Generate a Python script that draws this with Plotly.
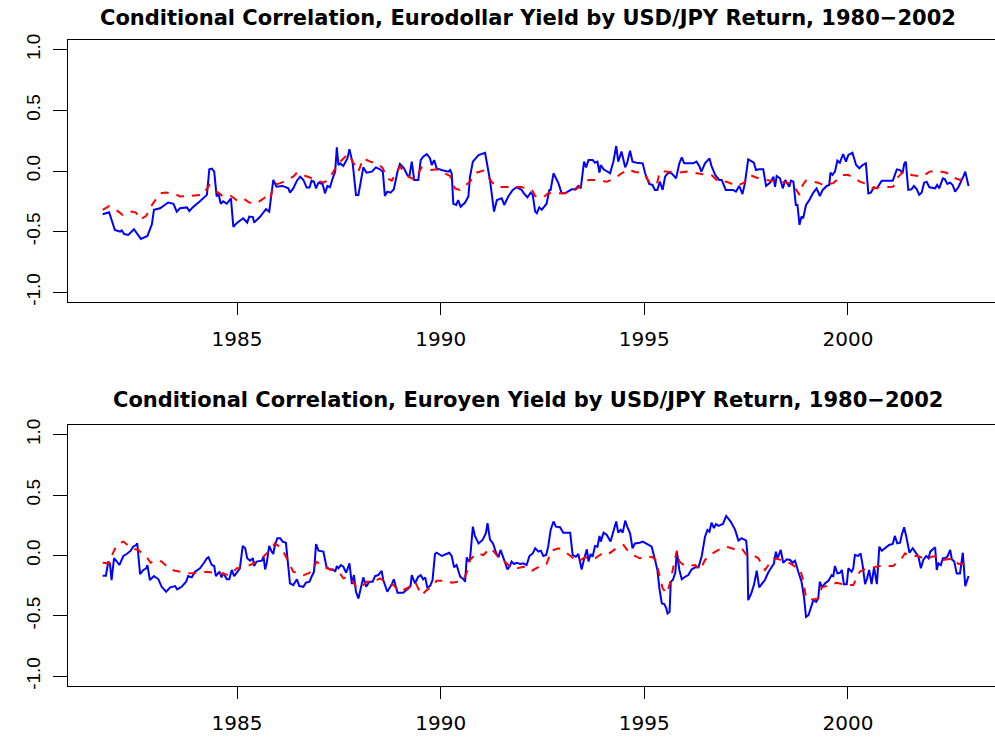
import plotly.graph_objects as go

# ---------------- data ----------------
usd_t = [1981.70, 1981.86, 1982.00, 1982.13, 1982.17, 1982.23, 1982.33, 1982.47, 1982.64, 1982.80,
         1982.91, 1982.96, 1983.11, 1983.31, 1983.44, 1983.52, 1983.60, 1983.77, 1983.83, 1983.91,
         1984.09, 1984.26, 1984.32, 1984.38, 1984.44, 1984.50, 1984.54, 1984.60, 1984.66, 1984.75,
         1984.85, 1984.91, 1984.99, 1985.15, 1985.25, 1985.30, 1985.39, 1985.42, 1985.56, 1985.71,
         1985.79, 1985.89, 1985.97, 1986.12, 1986.26, 1986.30, 1986.38, 1986.47, 1986.55, 1986.63,
         1986.71, 1986.78, 1986.83, 1986.89, 1986.94, 1987.00, 1987.10, 1987.16, 1987.22, 1987.28,
         1987.35, 1987.41, 1987.45, 1987.49, 1987.53, 1987.61, 1987.71, 1987.76, 1987.84, 1987.92,
         1987.98, 1988.06, 1988.10, 1988.18, 1988.31, 1988.41, 1988.51, 1988.58, 1988.63, 1988.69,
         1988.77, 1988.85, 1988.94, 1989.00, 1989.10, 1989.18, 1989.23, 1989.29, 1989.35, 1989.45,
         1989.51, 1989.57, 1989.66, 1989.74, 1989.78, 1989.84, 1989.90, 1990.02, 1990.19, 1990.23,
         1990.27, 1990.31, 1990.38, 1990.43, 1990.49, 1990.60, 1990.68, 1990.72, 1990.79, 1990.93,
         1991.09, 1991.21, 1991.31, 1991.38, 1991.50, 1991.56, 1991.66, 1991.77, 1991.87, 1991.99,
         1992.03, 1992.13, 1992.21, 1992.26, 1992.32, 1992.36, 1992.42, 1992.48, 1992.56, 1992.60,
         1992.67, 1992.70, 1992.77, 1992.83, 1992.89, 1992.97, 1993.05, 1993.22, 1993.30, 1993.38,
         1993.44, 1993.52, 1993.57, 1993.63, 1993.73, 1993.79, 1993.85, 1993.90, 1993.93, 1994.00,
         1994.09, 1994.16, 1994.24, 1994.31, 1994.36, 1994.44, 1994.53, 1994.58, 1994.65, 1994.71,
         1994.81, 1994.96, 1995.02, 1995.12, 1995.20, 1995.26, 1995.32, 1995.38, 1995.45, 1995.51,
         1995.59, 1995.67, 1995.78, 1995.86, 1995.92, 1995.98, 1996.20, 1996.28, 1996.35, 1996.40,
         1996.49, 1996.60, 1996.65, 1996.74, 1996.84, 1996.90, 1997.00, 1997.18, 1997.25, 1997.33,
         1997.41, 1997.47, 1997.55, 1997.63, 1997.69, 1997.74, 1997.82, 1997.92, 1997.99, 1998.09,
         1998.17, 1998.21, 1998.25, 1998.33, 1998.40, 1998.46, 1998.51, 1998.56, 1998.60, 1998.66,
         1998.72, 1998.76, 1998.81, 1998.86, 1998.90, 1998.97, 1999.05, 1999.15, 1999.23, 1999.31,
         1999.38, 1999.48, 1999.54, 1999.57, 1999.62, 1999.68, 1999.74, 1999.80, 1999.88, 1999.95,
         2000.01, 2000.11, 2000.20, 2000.28, 2000.36, 2000.44, 2000.50, 2000.56, 2000.64, 2000.71,
         2000.83, 2000.95, 2001.10, 2001.20, 2001.28, 2001.34, 2001.38, 2001.42, 2001.48, 2001.56,
         2001.62, 2001.69, 2001.75, 2001.81, 2001.87, 2001.93, 2002.00, 2002.14, 2002.19, 2002.24,
         2002.33, 2002.38, 2002.44, 2002.51, 2002.57, 2002.63, 2002.71, 2002.84, 2002.88, 2002.96]
usd_corr = [-0.356, -0.34, -0.486, -0.50, -0.49, -0.52, -0.527, -0.48, -0.56, -0.535,
            -0.44, -0.32, -0.307, -0.26, -0.27, -0.335, -0.307, -0.30, -0.33, -0.30,
            -0.25, -0.197, 0.014, 0.02, -0.005, -0.21, -0.18, -0.27, -0.25, -0.27,
            -0.225, -0.46, -0.43, -0.39, -0.425, -0.376, -0.38, -0.425, -0.38, -0.315,
            -0.335, -0.074, -0.13, -0.123, -0.143, -0.178, -0.143, -0.08, -0.047, -0.074,
            -0.137, -0.137, -0.08, -0.088, -0.143, -0.096, -0.107, -0.184, -0.123, -0.134,
            -0.06, -0.005, 0.195, 0.049, 0.063, 0.041, 0.104, 0.179, 0.063, -0.197,
            -0.197, -0.047, 0.03, -0.014, -0.005, 0.03, 0.014, -0.005, -0.206, -0.17,
            -0.178, -0.151, -0.005, 0.058, 0.022, -0.033, -0.047, 0.077, -0.074, -0.074,
            0.09, 0.118, 0.14, 0.104, 0.049, 0.09, 0.022, 0.008, -0.005, 0.008,
            -0.019, -0.27, -0.28, -0.24, -0.294, -0.26, -0.21, -0.047, 0.077, 0.132,
            0.15, -0.074, -0.335, -0.24, -0.225, -0.28, -0.21, -0.156, -0.134, -0.156,
            -0.178, -0.217, -0.178, -0.197, -0.335, -0.348, -0.30, -0.32, -0.28, -0.27,
            -0.156, -0.156, -0.019, -0.06, -0.10, -0.184, -0.184, -0.151, -0.151, -0.123,
            -0.143, 0.077, 0.03, 0.09, 0.09, 0.068, 0.077, -0.014, 0.049, 0.014,
            -0.005, -0.019, 0.077, 0.206, 0.077, 0.16, 0.03, 0.068, 0.167, 0.077,
            0.068, 0.063, -0.019, -0.107, -0.115, -0.156, -0.156, -0.088, -0.156, -0.047,
            -0.014, -0.019, -0.06, 0.063, 0.113, 0.063, 0.063, 0.077, 0.041, -0.005,
            0.063, 0.104, 0.041, -0.033, -0.074, -0.074, -0.156, -0.156, -0.17, -0.123,
            -0.19, -0.10, 0.096, 0.077, 0.068, 0.008, 0.014, 0.014, -0.123, -0.096,
            -0.047, -0.13, -0.041, -0.06, -0.143, -0.074, -0.10, -0.13, -0.08, -0.088,
            -0.28, -0.28, -0.444, -0.376, -0.39, -0.28, -0.24, -0.178, -0.143, -0.206,
            -0.156, -0.123, -0.115, -0.014, -0.033, -0.005, 0.085, 0.068, 0.14, 0.077,
            0.132, 0.15, 0.049, 0.022, 0.049, 0.063, -0.184, -0.178, -0.134, -0.143,
            -0.08, -0.08, -0.08, 0.014, 0.008, -0.019, 0.058, 0.077, -0.156, -0.151,
            -0.123, -0.151, -0.197, -0.178, -0.096, -0.088, -0.134, -0.143, -0.115, -0.143,
            -0.06, -0.068, -0.107, -0.096, -0.115, -0.17, -0.134, -0.041, -0.005, -0.123]

usd_smooth_t = [1981.70, 1981.86, 1982.09, 1982.19, 1982.41, 1982.52, 1982.62, 1982.77, 1982.91, 1983.11,
                1983.26, 1983.48, 1983.60, 1983.91, 1984.17, 1984.32, 1984.50, 1984.66, 1984.85, 1984.99,
                1985.15, 1985.30, 1985.48, 1985.69, 1985.81, 1985.89, 1986.06, 1986.20, 1986.38, 1986.47,
                1986.75, 1986.87, 1987.12, 1987.24, 1987.41, 1987.49, 1987.73, 1987.90, 1987.98, 1988.10,
                1988.27, 1988.47, 1988.58, 1988.68, 1988.80, 1988.92, 1989.00, 1989.21, 1989.37, 1989.53,
                1989.78, 1989.90, 1990.23, 1990.35, 1990.47, 1990.72, 1990.88, 1991.05, 1991.25, 1991.38,
                1991.54, 1991.78, 1991.95, 1992.15, 1992.24, 1992.32, 1992.52, 1992.64, 1992.93, 1993.05,
                1993.30, 1993.46, 1993.63, 1993.79, 1994.08, 1994.28, 1994.44, 1994.61, 1994.77, 1994.98,
                1995.14, 1995.31, 1995.38, 1995.55, 1995.80, 1996.04, 1996.20, 1996.40, 1996.65, 1996.82,
                1997.02, 1997.27, 1997.45, 1997.59, 1997.76, 1998.09, 1998.25, 1998.50, 1998.64, 1998.81,
                1998.89, 1998.97, 1999.27, 1999.39, 1999.64, 1999.87, 2000.01, 2000.17, 2000.29, 2000.46,
                2000.62, 2000.79, 2001.11, 2001.20, 2001.36, 2001.56, 2001.81, 2002.01, 2002.16, 2002.42,
                2002.54, 2002.75, 2002.88]
usd_smooth = [-0.32, -0.29, -0.335, -0.362, -0.335, -0.343, -0.40, -0.37, -0.28, -0.184,
              -0.178, -0.19, -0.21, -0.203, -0.197, -0.115, -0.17, -0.21, -0.206, -0.24,
              -0.225, -0.26, -0.267, -0.217, -0.24, -0.115, -0.10, -0.08, -0.047, -0.014,
              -0.047, -0.06, -0.096, -0.074, 0.022, 0.063, 0.14, 0.041, -0.005, 0.104,
              0.077, 0.058, 0.022, -0.06, -0.08, -0.005, 0.036, -0.047, -0.074, 0.03,
              0.008, 0.014, -0.041, -0.143, -0.156, -0.088, -0.014, 0.003, -0.088, -0.13,
              -0.134, -0.134, -0.13, -0.151, -0.156, -0.206, -0.217, -0.184, -0.184, -0.184,
              -0.156, -0.115, -0.074, -0.074, -0.088, -0.06, -0.019, 0.014, -0.008, -0.019,
              -0.10, -0.107, -0.005, -0.005, -0.014, -0.005, -0.014, -0.025, -0.033, -0.088,
              -0.088, -0.123, -0.096, -0.033, -0.055, -0.08, -0.08, -0.096, -0.107, -0.197,
              -0.115, -0.08, -0.096, -0.115, -0.10, -0.033, -0.033, -0.06, -0.088, -0.107,
              -0.143, -0.134, -0.13, -0.06, -0.005, -0.033, -0.047, -0.005, 0.003, -0.014,
              -0.047, -0.074, -0.047]

jpy_t = [1981.70, 1981.78, 1981.84, 1981.88, 1981.92, 1981.98, 1982.05, 1982.11, 1982.21, 1982.29,
         1982.39, 1982.45, 1982.52, 1982.55, 1982.62, 1982.70, 1982.77, 1982.80, 1982.86, 1982.96,
         1983.07, 1983.15, 1983.26, 1983.36, 1983.48, 1983.53, 1983.64, 1983.75, 1983.80, 1983.89,
         1983.97, 1984.09, 1984.19, 1984.26, 1984.30, 1984.38, 1984.44, 1984.48, 1984.57, 1984.62,
         1984.66, 1984.75, 1984.81, 1984.87, 1984.93, 1984.99, 1985.07, 1985.14, 1985.20, 1985.25,
         1985.32, 1985.39, 1985.42, 1985.48, 1985.61, 1985.65, 1985.69, 1985.73, 1985.79, 1985.85,
         1985.89, 1985.93, 1985.99, 1986.06, 1986.12, 1986.20, 1986.30, 1986.38, 1986.47, 1986.53,
         1986.63, 1986.69, 1986.78, 1986.83, 1986.89, 1986.94, 1987.00, 1987.12, 1987.20, 1987.28,
         1987.36, 1987.41, 1987.45, 1987.49, 1987.55, 1987.61, 1987.68, 1987.76, 1987.82, 1987.87,
         1987.92, 1987.98, 1988.04, 1988.10, 1988.17, 1988.25, 1988.33, 1988.39, 1988.47, 1988.55,
         1988.59, 1988.69, 1988.80, 1988.85, 1988.94, 1989.08, 1989.21, 1989.26, 1989.29, 1989.37,
         1989.45, 1989.51, 1989.57, 1989.62, 1989.67, 1989.74, 1989.80, 1989.86, 1989.90, 1990.03,
         1990.21, 1990.27, 1990.33, 1990.39, 1990.48, 1990.56, 1990.60, 1990.64, 1990.68, 1990.72,
         1990.79, 1990.84, 1990.93, 1991.03, 1991.11, 1991.15, 1991.21, 1991.29, 1991.36, 1991.42,
         1991.47, 1991.54, 1991.64, 1991.70, 1991.74, 1991.80, 1991.87, 1991.95, 1992.03, 1992.11,
         1992.18, 1992.26, 1992.32, 1992.40, 1992.46, 1992.52, 1992.59, 1992.64, 1992.70, 1992.77,
         1992.83, 1992.93, 1993.01, 1993.09, 1993.18, 1993.24, 1993.32, 1993.38, 1993.46, 1993.52,
         1993.59, 1993.63, 1993.68, 1993.73, 1993.79, 1993.85, 1993.90, 1993.93, 1994.00, 1994.08,
         1994.17, 1994.24, 1994.31, 1994.36, 1994.42, 1994.47, 1994.53, 1994.58, 1994.65, 1994.71,
         1994.77, 1994.89, 1994.96, 1995.04, 1995.18, 1995.26, 1995.32, 1995.37, 1995.43, 1995.49,
         1995.54, 1995.57, 1995.62, 1995.65, 1995.70, 1995.76, 1995.80, 1995.86, 1995.92, 1996.00,
         1996.08, 1996.16, 1996.25, 1996.33, 1996.41, 1996.49, 1996.55, 1996.60, 1996.65, 1996.71,
         1996.76, 1996.82, 1996.93, 1997.01, 1997.12, 1997.23, 1997.31, 1997.39, 1997.50, 1997.53,
         1997.55, 1997.63, 1997.69, 1997.76, 1997.82, 1997.96, 1998.04, 1998.13, 1998.18, 1998.23,
         1998.27, 1998.35, 1998.41, 1998.50, 1998.58, 1998.64, 1998.70, 1998.78, 1998.86, 1998.92,
         1998.97, 1999.03, 1999.09, 1999.15, 1999.22, 1999.27, 1999.31, 1999.36, 1999.44, 1999.52,
         1999.60, 1999.64, 1999.68, 1999.74, 1999.80, 1999.85, 1999.90, 1999.97, 2000.01, 2000.09,
         2000.13, 2000.17, 2000.25, 2000.31, 2000.36, 2000.42, 2000.47, 2000.52, 2000.58, 2000.64,
         2000.71, 2000.77, 2000.83, 2000.91, 2001.01, 2001.10, 2001.15, 2001.21, 2001.28, 2001.32,
         2001.38, 2001.44, 2001.51, 2001.59, 2001.67, 2001.73, 2001.79, 2001.85, 2001.92, 2001.98,
         2002.02, 2002.09, 2002.14, 2002.18, 2002.22, 2002.28, 2002.33, 2002.38, 2002.44, 2002.51,
         2002.55, 2002.61, 2002.67, 2002.75, 2002.82, 2002.88, 2002.96]
jpy_corr = [-0.167, -0.167, -0.05, -0.07, -0.203, -0.023, -0.05, -0.079, -0.004, 0.012,
            0.04, 0.073, 0.087, 0.10, -0.154, -0.12, -0.106, -0.079, -0.203, -0.17,
            -0.197, -0.259, -0.30, -0.264, -0.253, -0.28, -0.259, -0.217, -0.17, -0.181,
            -0.134, -0.106, -0.06, -0.023, -0.015, -0.079, -0.087, -0.17, -0.134, -0.181,
            -0.143, -0.197, -0.197, -0.12, -0.17, -0.143, -0.106, 0.079, 0.06, -0.023,
            -0.043, -0.023, -0.087, -0.05, -0.043, -0.01, -0.115, -0.06, 0.079, 0.032,
            0.012, 0.087, 0.143, 0.143, 0.115, 0.106, -0.23, -0.245, -0.197, -0.253,
            -0.259, -0.225, -0.217, -0.176, -0.134, 0.095, 0.04, 0.032, -0.098, -0.115,
            -0.115, -0.134, -0.087, -0.106, -0.079, -0.093, -0.143, -0.065, -0.237, -0.162,
            -0.30, -0.355, -0.259, -0.181, -0.259, -0.217, -0.217, -0.17, -0.162, -0.126,
            -0.203, -0.30, -0.237, -0.197, -0.309, -0.309, -0.272, -0.253, -0.162, -0.23,
            -0.176, -0.162, -0.197, -0.181, -0.264, -0.253, -0.203, 0.012, 0.023, -0.004,
            0.023, -0.004, -0.098, -0.079, -0.176, -0.197, -0.217, -0.015, -0.043, -0.032,
            0.239, 0.162, 0.10, 0.129, 0.184, 0.267, 0.134, 0.095, 0.023, -0.015,
            0.046, -0.023, -0.115, -0.087, -0.05, -0.07, -0.06, -0.07, -0.065, -0.079,
            -0.004, 0.018, 0.06, 0.032, 0.04, -0.004, 0.004, 0.073, 0.212, 0.281,
            0.239, 0.234, 0.189, 0.189, 0.189, 0.004, -0.01, 0.012, -0.115, -0.032,
            0.051, -0.05, 0.012, -0.01, 0.079, 0.073, 0.162, 0.115, 0.189, 0.17,
            0.115, 0.198, 0.281, 0.189, 0.212, 0.189, 0.289, 0.239, 0.184, 0.06,
            0.10, 0.106, 0.115, 0.10, 0.073, -0.032, -0.12, -0.272, -0.397, -0.402,
            -0.438, -0.48, -0.466, -0.217, -0.203, -0.143, 0.032, -0.12, -0.197, -0.176,
            -0.162, -0.115, -0.098, -0.098, -0.004, 0.156, 0.212, 0.198, 0.272, 0.226,
            0.261, 0.245, 0.261, 0.328, 0.281, 0.212, 0.123, 0.143, 0.123, 0.018,
            -0.37, -0.309, -0.245, -0.126, -0.264, -0.203, -0.143, -0.093, -0.07, 0.032,
            -0.023, 0.046, -0.06, -0.032, -0.037, -0.06, -0.043, -0.134, -0.217, -0.342,
            -0.508, -0.494, -0.438, -0.369, -0.383, -0.355, -0.217, -0.264, -0.23, -0.209,
            -0.162, -0.17, -0.087, -0.148, -0.143, -0.12, -0.237, -0.237, -0.106, -0.134,
            -0.106, 0.004, -0.004, 0.018, -0.079, -0.237, -0.189, -0.12, -0.237, -0.098,
            -0.237, 0.073, 0.04, 0.06, 0.087, 0.095, 0.162, 0.10, 0.106, 0.17,
            0.234, 0.143, 0.023, 0.06, 0.018, -0.01, -0.106, -0.037, -0.004, -0.023,
            0.032, 0.051, 0.068, -0.12, -0.065, -0.079, -0.023, -0.023, -0.01, 0.046,
            -0.032, -0.05, -0.148, -0.148, 0.023, -0.253, -0.17]

jpy_smooth_t = [1981.70, 1981.88, 1981.95, 1982.06, 1982.21, 1982.41, 1982.58, 1982.80, 1982.88, 1983.03,
                1983.15, 1983.36, 1983.48, 1983.80, 1984.09, 1984.26, 1984.42, 1984.58, 1984.83, 1984.99,
                1985.12, 1985.32, 1985.48, 1985.61, 1985.81, 1985.93, 1986.10, 1986.22, 1986.38, 1986.53,
                1986.63, 1986.75, 1986.89, 1986.94, 1987.20, 1987.36, 1987.53, 1987.61, 1987.73, 1987.85,
                1987.94, 1988.06, 1988.18, 1988.35, 1988.51, 1988.63, 1988.84, 1989.00, 1989.21, 1989.37,
                1989.45, 1989.53, 1989.66, 1989.78, 1989.90, 1990.15, 1990.27, 1990.43, 1990.56, 1990.65,
                1990.72, 1990.88, 1991.05, 1991.21, 1991.31, 1991.42, 1991.62, 1991.78, 1992.03, 1992.11,
                1992.24, 1992.48, 1992.60, 1992.72, 1992.89, 1993.05, 1993.26, 1993.38, 1993.54, 1993.79,
                1994.00, 1994.12, 1994.31, 1994.49, 1994.58, 1994.77, 1994.89, 1995.18, 1995.28, 1995.37,
                1995.45, 1995.55, 1995.63, 1995.71, 1995.80, 1995.86, 1996.00, 1996.25, 1996.37, 1996.49,
                1996.65, 1996.82, 1997.02, 1997.23, 1997.39, 1997.51, 1997.67, 1997.80, 1997.96, 1998.17,
                1998.37, 1998.58, 1998.83, 1998.91, 1998.97, 1999.15, 1999.27, 1999.36, 1999.56, 1999.72,
                1999.97, 2000.13, 2000.29, 2000.46, 2000.64, 2000.75, 2000.95, 2001.11, 2001.32, 2001.40,
                2001.60, 2001.73, 2001.93, 2002.05, 2002.24, 2002.34, 2002.59, 2002.71, 2002.88, 2002.96]
jpy_smooth = [-0.06, -0.065, 0.018, 0.095, 0.115, 0.06, 0.046, -0.023, -0.06, -0.037,
              -0.05, -0.115, -0.126, -0.148, -0.143, -0.134, -0.143, -0.148, -0.162, -0.106,
              -0.098, -0.079, -0.05, -0.023, 0.046, 0.10, 0.06, -0.023, -0.134, -0.15,
              -0.162, -0.148, -0.12, -0.05, -0.106, -0.12, -0.148, -0.189, -0.176, -0.217,
              -0.272, -0.259, -0.217, -0.217, -0.189, -0.217, -0.245, -0.30, -0.264, -0.217,
              -0.272, -0.328, -0.286, -0.259, -0.209, -0.209, -0.225, -0.217, -0.197, -0.134,
              -0.037, 0.018, 0.004, 0.06, 0.032, -0.015, -0.065, -0.115, -0.093, -0.098,
              -0.126, -0.079, -0.07, 0.04, 0.06, 0.032, -0.023, -0.05, -0.015, -0.023,
              0.023, 0.012, 0.06, 0.087, 0.046, -0.004, -0.023, -0.01, -0.037, -0.162,
              -0.272, -0.314, -0.23, -0.098, 0.04, -0.05, -0.087, -0.079, -0.12, -0.037,
              0.012, 0.046, 0.073, 0.051, 0.06, 0.004, 0.004, -0.023, -0.12, -0.023,
              -0.037, -0.065, -0.12, -0.217, -0.355, -0.364, -0.355, -0.264, -0.245, -0.226,
              -0.245, -0.245, -0.134, -0.106, -0.098, -0.087, -0.087, -0.087, -0.023, 0.018,
              -0.004, -0.004, -0.037, -0.01, -0.004, -0.037, -0.023, -0.07, -0.065, -0.05]

titles = ["Conditional Correlation, Eurodollar Yield by USD/JPY Return, 1980\u22122002",
          "Conditional Correlation, Euroyen Yield by USD/JPY Return, 1980\u22122002"]
x_ticks = [1985, 1990, 1995, 2000]
y_ticks = [-1.0, -0.5, 0.0, 0.5, 1.0]
y_ticktext = ["-1.0", "-0.5", "0.0", "0.5", "1.0"]

# ---------------- figure ----------------
W, H = 995, 738
fig = go.Figure()

blue = dict(color="#0000FF", width=2)
red = dict(color="#FF0000", width=2, dash="8px,8px")

fig.add_trace(go.Scatter(x=usd_t, y=usd_corr, mode="lines", line=blue, xaxis="x", yaxis="y", showlegend=False))
fig.add_trace(go.Scatter(x=usd_smooth_t, y=usd_smooth, mode="lines", line=red, xaxis="x", yaxis="y", showlegend=False))
fig.add_trace(go.Scatter(x=jpy_t, y=jpy_corr, mode="lines", line=blue, xaxis="x2", yaxis="y2", showlegend=False))
fig.add_trace(go.Scatter(x=jpy_smooth_t, y=jpy_smooth, mode="lines", line=red, xaxis="x2", yaxis="y2", showlegend=False))

x_range = [1980.85, 2003.61]
y_range = [-1.08, 1.08]
left = 68 / W

xcommon = dict(range=x_range, tickvals=x_ticks, ticks="outside", ticklen=12, tickwidth=1.3,
               tickcolor="black", showline=True, linecolor="black", linewidth=1.3, mirror=True,
               showgrid=False, zeroline=False, automargin=False,
               tickfont=dict(family="DejaVu Sans", size=20, color="black"),
               ticklabelstandoff=7, domain=[left, 1.0])
ycommon = dict(range=y_range, tickvals=y_ticks, ticktext=y_ticktext, ticks="outside", ticklen=14,
               tickwidth=1.3, tickcolor="black", showline=True, linecolor="black", linewidth=1.3,
               mirror=False, showgrid=False, zeroline=False, tickangle=-90, automargin=False,
               tickfont=dict(family="Liberation Sans", size=19, color="black"),
               ticklabelstandoff=5)

fig.update_layout(
    width=W, height=H, autosize=False,
    margin=dict(l=0, r=0, t=0, b=0, autoexpand=False),
    paper_bgcolor="white", plot_bgcolor="white",
    xaxis=dict(**xcommon, anchor="y"),
    yaxis=dict(**ycommon, anchor="x", domain=[1 - 302 / H, 1 - 40 / H]),
    xaxis2=dict(**xcommon, anchor="y2"),
    yaxis2=dict(**ycommon, anchor="x2", domain=[1 - 686 / H, 1 - 425 / H]),
)

for title, ypix in zip(titles, [18, 400]):
    fig.add_annotation(text="<b>" + title + "</b>", xref="paper", yref="paper",
                       x=528 / W, y=1 - ypix / H, xanchor="center", yanchor="middle",
                       showarrow=False,
                       font=dict(family="DejaVu Sans", size=21, color="black"))

# remove the browser's default page margin so the figure sits at the window's corner
fig.write_html("out.html", config={"displayModeBar": False},
               post_script="document.body.style.margin='0';document.body.style.overflow='hidden';")
